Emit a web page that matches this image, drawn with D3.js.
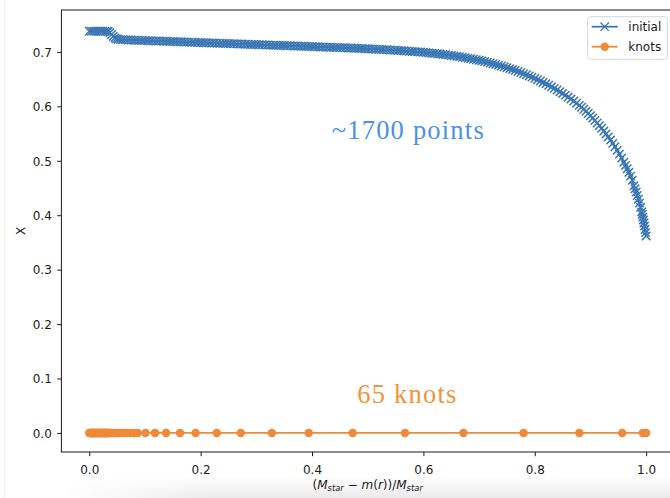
<!DOCTYPE html>
<html>
<head>
<meta charset="utf-8">
<script src="https://cdnjs.cloudflare.com/ajax/libs/d3/7.8.5/d3.min.js"></script>
<style>
    body { margin: 0; background: #ffffff; }
    svg { display: block; font-family: "DejaVu Sans", sans-serif; }
</style>
</head>
<body>
<svg id="chart" width="670" height="498"></svg>
<script>

// ---- data ----

// [mass coordinate, X] of the initial profile (read along the band of markers)
let initialCurve = [
    [0.000, 0.7380], [0.004, 0.7380], [0.008, 0.7380], [0.012, 0.7380], [0.016, 0.7380],
    [0.020, 0.7380], [0.024, 0.7380], [0.028, 0.7380], [0.032, 0.7380],
    [0.034, 0.7375], [0.037, 0.7355], [0.040, 0.7320], [0.043, 0.7285], [0.046, 0.7257],
    [0.049, 0.7240], [0.052, 0.7231], [0.056, 0.7226],
    [0.060, 0.7224], [0.065, 0.7222], [0.070, 0.7220], [0.075, 0.7218], [0.080, 0.7216],
    [0.085, 0.7214], [0.090, 0.7212], [0.095, 0.7211], [0.100, 0.7209], [0.105, 0.7207],
    [0.110, 0.7205], [0.115, 0.7203], [0.120, 0.7201], [0.125, 0.7199], [0.130, 0.7198],
    [0.135, 0.7196], [0.140, 0.7194], [0.145, 0.7192], [0.150, 0.7190], [0.155, 0.7188],
    [0.160, 0.7187], [0.165, 0.7185], [0.170, 0.7183], [0.175, 0.7181], [0.180, 0.7179],
    [0.185, 0.7177], [0.190, 0.7175], [0.195, 0.7174], [0.200, 0.7172], [0.205, 0.7170],
    [0.210, 0.7168], [0.215, 0.7166], [0.220, 0.7164], [0.225, 0.7162], [0.230, 0.7161],
    [0.235, 0.7159], [0.240, 0.7157], [0.245, 0.7155], [0.250, 0.7153], [0.255, 0.7151],
    [0.260, 0.7150], [0.265, 0.7148], [0.270, 0.7146], [0.275, 0.7144], [0.280, 0.7142],
    [0.285, 0.7140], [0.290, 0.7138], [0.295, 0.7137], [0.300, 0.7135], [0.305, 0.7133],
    [0.310, 0.7131], [0.315, 0.7129], [0.320, 0.7127], [0.325, 0.7125], [0.330, 0.7124],
    [0.335, 0.7122], [0.340, 0.7120], [0.345, 0.7118], [0.350, 0.7116], [0.355, 0.7114],
    [0.360, 0.7112], [0.365, 0.7111], [0.370, 0.7109], [0.375, 0.7107], [0.380, 0.7105],
    [0.385, 0.7103], [0.390, 0.7101], [0.395, 0.7100], [0.400, 0.7098], [0.405, 0.7096],
    [0.410, 0.7094], [0.415, 0.7092], [0.420, 0.7090], [0.425, 0.7088], [0.430, 0.7086],
    [0.435, 0.7085], [0.440, 0.7083], [0.445, 0.7081], [0.450, 0.7079], [0.455, 0.7077],
    [0.460, 0.7075], [0.465, 0.7072], [0.470, 0.7070], [0.475, 0.7068], [0.480, 0.7066],
    [0.485, 0.7064], [0.490, 0.7061], [0.495, 0.7059], [0.500, 0.7057], [0.505, 0.7054],
    [0.510, 0.7052], [0.515, 0.7049], [0.520, 0.7047], [0.525, 0.7044], [0.530, 0.7042],
    [0.535, 0.7039], [0.540, 0.7036], [0.545, 0.7033], [0.550, 0.7030], [0.555, 0.7027],
    [0.560, 0.7024], [0.565, 0.7021], [0.570, 0.7017], [0.575, 0.7013], [0.580, 0.7009],
    [0.585, 0.7005], [0.590, 0.7001], [0.595, 0.6997], [0.600, 0.6992], [0.605, 0.6987],
    [0.610, 0.6982], [0.615, 0.6977], [0.620, 0.6972], [0.625, 0.6966], [0.630, 0.6960],
    [0.635, 0.6954], [0.640, 0.6948], [0.645, 0.6941], [0.650, 0.6934], [0.655, 0.6927],
    [0.660, 0.6919], [0.665, 0.6911], [0.670, 0.6903], [0.675, 0.6894], [0.680, 0.6885],
    [0.685, 0.6876], [0.690, 0.6866], [0.695, 0.6856], [0.700, 0.6845], [0.705, 0.6834],
    [0.710, 0.6822], [0.715, 0.6810], [0.720, 0.6797], [0.725, 0.6784], [0.730, 0.6770],
    [0.735, 0.6756], [0.740, 0.6741], [0.745, 0.6726], [0.750, 0.6710], [0.755, 0.6693],
    [0.760, 0.6676], [0.765, 0.6658], [0.770, 0.6640], [0.775, 0.6621], [0.780, 0.6601],
    [0.785, 0.6580], [0.790, 0.6559], [0.795, 0.6537], [0.800, 0.6514], [0.805, 0.6490],
    [0.810, 0.6465], [0.815, 0.6440], [0.820, 0.6414], [0.825, 0.6387], [0.830, 0.6359],
    [0.835, 0.6330], [0.840, 0.6300], [0.845, 0.6269], [0.850, 0.6237], [0.855, 0.6204],
    [0.860, 0.6170], [0.865, 0.6134], [0.870, 0.6097], [0.875, 0.6058], [0.880, 0.6018],
    [0.884, 0.5984], [0.888, 0.5947], [0.892, 0.5909], [0.896, 0.5869], [0.900, 0.5827],
    [0.904, 0.5784], [0.908, 0.5740], [0.912, 0.5694], [0.916, 0.5646], [0.920, 0.5597],
    [0.924, 0.5546], [0.928, 0.5493], [0.932, 0.5438], [0.936, 0.5380], [0.940, 0.5320],
    [0.944, 0.5257], [0.948, 0.5191], [0.952, 0.5122], [0.956, 0.5050], [0.960, 0.4974],
    [0.963, 0.4915], [0.966, 0.4853], [0.969, 0.4788], [0.972, 0.4718], [0.975, 0.4643],
    [0.978, 0.4540], [0.980, 0.4485], [0.982, 0.4425], [0.984, 0.4362], [0.986, 0.4295],
    [0.988, 0.4222], [0.990, 0.4145], [0.992, 0.4060], [0.993, 0.4014], [0.994, 0.3965],
    [0.995, 0.3913], [0.996, 0.3858], [0.997, 0.3800], [0.998, 0.3738], [0.999, 0.3680],
    [1.000, 0.3620]
];

// 65 knot positions
let knotM = [
    0.000, 0.001, 0.002, 0.003, 0.004, 0.005, 0.006, 0.007, 0.008, 0.009,
    0.010, 0.011, 0.012, 0.013, 0.014, 0.015, 0.016, 0.017, 0.018, 0.019,
    0.020, 0.021, 0.022, 0.023, 0.024, 0.025, 0.026, 0.027, 0.028, 0.029,
    0.030, 0.031, 0.032, 0.033, 0.034, 0.036, 0.038, 0.040, 0.043, 0.046,
    0.049, 0.053, 0.057, 0.062, 0.067, 0.073, 0.080, 0.087, 0.101, 0.118,
    0.138, 0.163, 0.191, 0.229, 0.272, 0.328, 0.394, 0.473, 0.567, 0.672,
    0.780, 0.880, 0.957, 0.994, 1.000
];
let knotX = [
    0, 0, 0, 0, 0, 0, 0, 0, 0, 0,
    0, 0, 0, 0, 0, 0, 0, 0, 0, 0,
    0, 0, 0, 0, 0, 0, 0, 0, 0, 0,
    0, 0, 0, 0, 0, 0, 0, 0, 0, 0,
    0, 0, 0, 0, 0, 0, 0, 0, 0, 0,
    0, 0, 0, 0, 0, 0, 0, 0, 0, 0,
    0, 0, 0, 0, 0
];

let xTicks = [0.0, 0.2, 0.4, 0.6, 0.8, 1.0];
let yTicks = [0.0, 0.1, 0.2, 0.3, 0.4, 0.5, 0.6, 0.7];
let seriesNames = ["initial", "knots"];

// annotation text and where it sits, in data coordinates
let noteTexts = ["~1700 points", "65 knots"];
let notePos = [[0.4354, 0.540], [0.4814, 0.055]];


/** Class drawing the profile and its knots. */
class ProfilePlot {

    constructor(svgId) {
        this.svg = d3.select(svgId);
        this.box = {left: 61.4, right: 674, top: 10, bottom: 452};

        this.blue = "#3a77b3";
        this.orange = "#ef8a3a";

        this.xScale = d3.scaleLinear()
            .domain([-0.05, 1.05])
            .range([this.box.left, this.box.right]);
        this.yScale = d3.scaleLinear()
            .domain([-0.035, 0.777])
            .range([this.box.bottom, this.box.top]);

        // shape of the 'x' marker, centred on the point
        this.crossPath = "M-4.2,-4.2L4.2,4.2M4.2,-4.2L-4.2,4.2";
    }

    drawBackdrop() {
        let svg = this.svg;
        let defs = svg.append("defs");

        // faint screenshot leftovers: a thin edge on the left and a haze at the bottom
        svg.append("line")
            .attr("x1", 4.5).attr("x2", 4.5)
            .attr("y1", 0).attr("y2", 498)
            .attr("stroke", "#efefec")
            .attr("stroke-width", 1);

        let grad = defs.append("linearGradient")
            .attr("id", "haze")
            .attr("x1", 0).attr("x2", 0).attr("y1", 0).attr("y2", 1);
        grad.append("stop").attr("offset", "0%").attr("stop-color", "#e4e4e4").attr("stop-opacity", 0);
        grad.append("stop").attr("offset", "100%").attr("stop-color", "#e4e4e4").attr("stop-opacity", 0.75);

        // fade the haze in from the left
        let side = defs.append("linearGradient")
            .attr("id", "hazeSide")
            .attr("x1", 0).attr("x2", 1).attr("y1", 0).attr("y2", 0);
        side.append("stop").attr("offset", "0%").attr("stop-color", "#fff").attr("stop-opacity", 0);
        side.append("stop").attr("offset", "25%").attr("stop-color", "#fff").attr("stop-opacity", 1);
        side.append("stop").attr("offset", "100%").attr("stop-color", "#fff").attr("stop-opacity", 1);

        defs.append("mask").attr("id", "hazeMask")
            .attr("maskContentUnits", "objectBoundingBox")
            .append("rect")
            .attr("width", 1).attr("height", 1)
            .attr("fill", "url(#hazeSide)");

        svg.append("rect")
            .attr("x", 60).attr("y", 476)
            .attr("width", 610).attr("height", 22)
            .attr("fill", "url(#haze)")
            .attr("mask", "url(#hazeMask)");
    }

    drawAxes() {
        let svg = this.svg;
        let box = this.box;

        let xAxis = d3.axisBottom(this.xScale)
            .tickValues(xTicks)
            .tickFormat(d3.format(".1f"))
            .tickSizeOuter(0)
            .tickSize(4.2)
            .tickPadding(4.2);

        let gx = svg.append("g")
            .attr("transform", "translate(0," + box.bottom + ")")
            .call(xAxis);
        gx.select(".domain").remove();
        gx.attr("font-size", 12).attr("font-family", "DejaVu Sans");
        gx.selectAll("text").attr("dy", null).attr("y", 21.8).attr("fill", "#1a1a1a");
        gx.selectAll("line").attr("stroke", "#1a1a1a").attr("stroke-width", 1);

        let yAxis = d3.axisLeft(this.yScale)
            .tickValues(yTicks)
            .tickFormat(d3.format(".1f"))
            .tickSizeOuter(0)
            .tickSize(4.2)
            .tickPadding(4.2);

        let gy = svg.append("g")
            .attr("transform", "translate(" + box.left + ",0)")
            .call(yAxis);
        gy.select(".domain").remove();
        gy.attr("font-size", 12).attr("font-family", "DejaVu Sans");
        gy.selectAll("text").attr("x", -9.6).attr("dy", "0.36em").attr("fill", "#1a1a1a");
        gy.selectAll("line").attr("stroke", "#1a1a1a").attr("stroke-width", 1);

        // axis labels
        let xl = svg.append("text")
            .attr("x", (box.left + box.right) / 2)
            .attr("y", 489)
            .attr("text-anchor", "middle")
            .attr("font-size", 12)
            .attr("fill", "#1a1a1a");
        xl.append("tspan").text("(");
        xl.append("tspan").attr("font-style", "italic").text("M");
        xl.append("tspan").attr("font-style", "italic").attr("font-size", 8.4).attr("dy", 2.2).text("star");
        xl.append("tspan").attr("dy", -2.2).text(" \u2212 ");
        xl.append("tspan").attr("font-style", "italic").text("m");
        xl.append("tspan").text("(");
        xl.append("tspan").attr("font-style", "italic").text("r");
        xl.append("tspan").text("))/");
        xl.append("tspan").attr("font-style", "italic").text("M");
        xl.append("tspan").attr("font-style", "italic").attr("font-size", 8.4).attr("dy", 2.2).text("star");

        svg.append("text")
            .attr("transform", "translate(24.5," + ((box.top + box.bottom) / 2) + ") rotate(-90)")
            .attr("text-anchor", "middle")
            .attr("font-size", 12)
            .attr("fill", "#1a1a1a")
            .text("X");
    }

    drawSeries() {
        let svg = this.svg;
        let x = this.xScale;
        let y = this.yScale;

        let line = d3.line()
            .x(d => x(d[0]))
            .y(d => y(d[1]));

        // initial profile: line plus 'x' markers
        svg.append("path")
            .datum(initialCurve)
            .attr("d", line)
            .attr("fill", "none")
            .attr("stroke", this.blue)
            .attr("stroke-width", 1.8);

        svg.append("g").selectAll("path")
            .data(initialCurve)
            .enter().append("path")
            .attr("transform", d => "translate(" + x(d[0]) + "," + y(d[1]) + ")")
            .attr("d", this.crossPath)
            .attr("fill", "none")
            .attr("stroke", this.blue)
            .attr("stroke-width", 1.5);

        // knots: line plus dots
        let knots = knotM.map((m, i) => [m, knotX[i]]);

        svg.append("path")
            .datum(knots)
            .attr("d", line)
            .attr("fill", "none")
            .attr("stroke", this.orange)
            .attr("stroke-width", 1.8);

        svg.append("g").selectAll("circle")
            .data(knots)
            .enter().append("circle")
            .attr("cx", d => x(d[0]))
            .attr("cy", d => y(d[1]))
            .attr("r", 3.6)
            .attr("fill", this.orange)
            .attr("stroke", this.orange)
            .attr("stroke-width", 1.2);
    }

    drawNotes() {
        let colors = ["#4a92e4", "#f0943c"];
        let widths = [152, 99];
        this.svg.selectAll("text.note")
            .data(noteTexts)
            .enter().append("text")
            .attr("class", "note")
            .attr("x", (d, i) => this.xScale(notePos[i][0]))
            .attr("y", (d, i) => this.yScale(notePos[i][1]))
            .attr("font-family", "'Liberation Serif', serif")
            .attr("font-size", 26.5)
            .attr("textLength", (d, i) => widths[i])
            .attr("lengthAdjust", "spacing")
            .attr("fill", (d, i) => colors[i])
            .text(d => d);
    }

    drawFrame() {
        let box = this.box;
        this.svg.append("rect")
            .attr("x", box.left).attr("y", box.top)
            .attr("width", box.right - box.left)
            .attr("height", box.bottom - box.top)
            .attr("fill", "none")
            .attr("stroke", "#1a1a1a")
            .attr("stroke-width", 1);
    }

    drawLegend() {
        let svg = this.svg;
        let lg = svg.append("g").attr("transform", "translate(587.7,16.7)");

        lg.append("rect")
            .attr("width", 79.6).attr("height", 42.6)
            .attr("rx", 3)
            .attr("fill", "#ffffff").attr("fill-opacity", 0.8)
            .attr("stroke", "#d6d6d6")
            .attr("stroke-width", 1);

        let colors = [this.blue, this.orange];
        let rows = lg.selectAll("g.row")
            .data(seriesNames)
            .enter().append("g")
            .attr("class", "row")
            .attr("transform", (d, i) => "translate(0," + (10 + i * 20) + ")");

        rows.append("line")
            .attr("x1", 4).attr("x2", 30)
            .attr("stroke", (d, i) => colors[i])
            .attr("stroke-width", 1.8);

        rows.filter((d, i) => i === 0).append("path")
            .attr("transform", "translate(17,0)")
            .attr("d", this.crossPath)
            .attr("fill", "none")
            .attr("stroke", this.blue)
            .attr("stroke-width", 1.3);

        rows.filter((d, i) => i === 1).append("circle")
            .attr("cx", 17)
            .attr("r", 3.6)
            .attr("fill", this.orange)
            .attr("stroke", this.orange)
            .attr("stroke-width", 1.2);

        rows.append("text")
            .attr("x", 40.6)
            .attr("y", 4.4)
            .attr("font-size", 12)
            .attr("fill", "#1a1a1a")
            .text(d => d);
    }

    draw() {
        this.drawBackdrop();
        this.drawSeries();
        this.drawFrame();
        this.drawAxes();
        this.drawNotes();
        this.drawLegend();
    }
}

let plot = new ProfilePlot("#chart");
plot.draw();

</script>
</body>
</html>
